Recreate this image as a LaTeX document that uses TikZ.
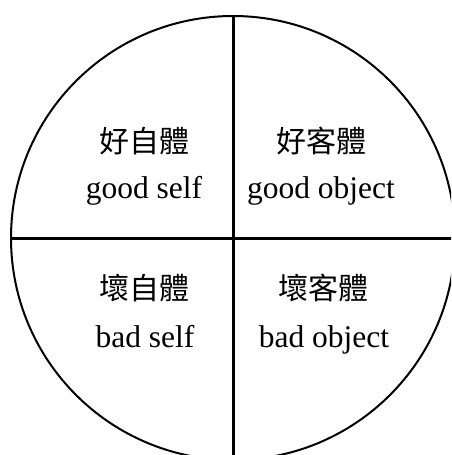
\documentclass[tikz,border=0pt]{standalone}
\usepackage{fontspec}
\setmainfont{Liberation Serif}
\newfontfamily\cjk{Noto Sans CJK TC}
\begin{document}
\begin{tikzpicture}[x=1pt,y=-1pt,
  ring/.style={draw=black,line width=2pt,circle,minimum size=444pt,inner sep=0pt},
  divider/.style={draw=black,line width=3pt},
  cjklabel/.style={anchor=base,inner sep=0pt,font=\cjk\fontsize{30}{30}\selectfont},
  enlabel/.style={anchor=base,inner sep=0pt,font=\fontsize{31.5}{31.5}\selectfont}]
\clip (0,0) rectangle (451,455);
\fill[white] (0,0) rectangle (451,455);
\node[ring] (circ) at (233,238) {};
\draw[divider] (circ.north) -- (circ.south);
\draw[divider] (circ.west) -- (circ.east);
\node[cjklabel] (gsc) at (144,152) {好自體};
\node[enlabel] (gse) at (144,198) {good self};
\node[cjklabel] (goc) at (321,152) {好客體};
\node[enlabel] (goe) at (321,198) {good object};
\node[cjklabel] (bsc) at (144,299) {壞自體};
\node[enlabel] (bse) at (145,347) {bad self};
\node[cjklabel] (boc) at (323,299) {壞客體};
\node[enlabel] (boe) at (324,347) {bad object};
\end{tikzpicture}
\end{document}
